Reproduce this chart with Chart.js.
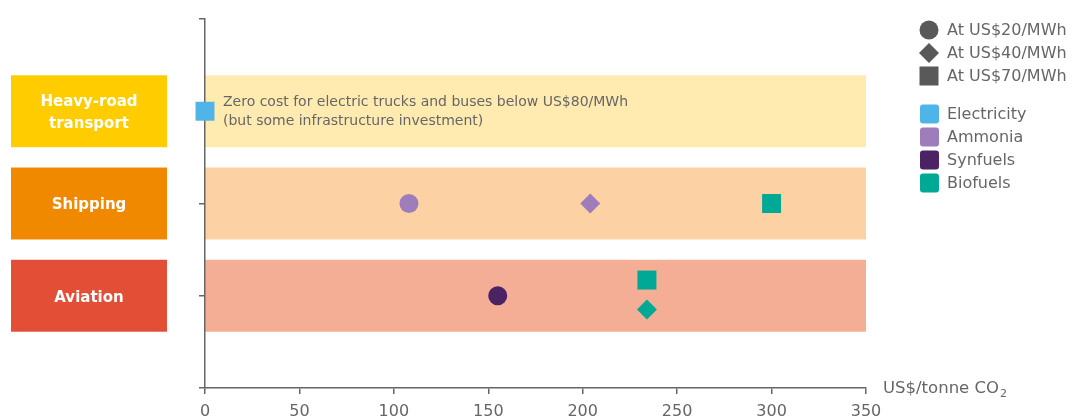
<!DOCTYPE html>
<html>
<head>
<meta charset="utf-8">
<script src="https://cdn.jsdelivr.net/npm/chart.js@4.4.1/dist/chart.umd.min.js"></script>
<style>
  html, body { margin: 0; padding: 0; background: #fff; }
  #wrap { width: 1074px; height: 418px; position: relative; }
</style>
</head>
<body>
<div id="wrap"><canvas id="chart"></canvas></div>
<script>
// sectors, top to bottom
const sectors = ['Heavy-road transport', 'Shipping', 'Aviation'];
const sectorLines = [['Heavy-road', 'transport'], ['Shipping'], ['Aviation']];
const sectorColors = ['#FFCC00', '#F08800', '#E34F36'];
const bandColors = ['#FFEBB0', '#FCD1A4', '#F4AE96'];

const xTicks = [0, 50, 100, 150, 200, 250, 300, 350];

const priceLabels = ['At US$20/MWh', 'At US$40/MWh', 'At US$70/MWh'];
const priceShapes = ['circle', 'rectRot', 'rect'];

const fuels = ['Electricity', 'Ammonia', 'Synfuels', 'Biofuels'];
const fuelColors = ['#4FB4E7', '#9E7DBA', '#4B2263', '#00A996'];

// abatement cost (US$/tonne CO2), sector row (1 = top), electricity price tier
const electricityCost = [0];
const electricityRow = [1];
const electricityTier = [2];

const ammoniaCost = [108, 204];
const ammoniaRow = [2, 2];
const ammoniaTier = [0, 1];

const synfuelsCost = [155];
const synfuelsRow = [3];
const synfuelsTier = [0];

const biofuelsCost = [300, 234, 234];
const biofuelsRow = [2, 2.83, 3.15];
const biofuelsTier = [2, 2, 1];

const noteLines = ['Zero cost for electric trucks and buses below US$80/MWh', '(but some infrastructure investment)'];

const FONT = "'DejaVu Sans', sans-serif";
const GREY = '#666666';
const radiusFor = { circle: 9.5, rectRot: 10, rect: 13.4 };

function makeSet(label, color, cost, row, tier) {
    const styles = tier.map(t => priceShapes[t]);
    return {
        label: label,
        data: cost.map((c, i) => ({ x: c, y: row[i] })),
        pointStyle: styles,
        pointRadius: styles.map(s => radiusFor[s]),
        pointHoverRadius: styles.map(s => radiusFor[s]),
        backgroundColor: color,
        borderColor: color,
        borderWidth: 0,
        clip: false
    };
}

const bandsPlugin = {
    id: 'bands',
    beforeDraw(chart) {
        const { ctx, scales: { x, y } } = chart;
        ctx.save();
        sectors.forEach((s, i) => {
            const top = y.getPixelForValue(i + 1 - 0.39);
            const bot = y.getPixelForValue(i + 1 + 0.39);
            ctx.fillStyle = bandColors[i];
            ctx.fillRect(x.getPixelForValue(0), top, x.getPixelForValue(350) - x.getPixelForValue(0), bot - top);
            // sector label box
            ctx.fillStyle = sectorColors[i];
            ctx.fillRect(11, top, 156, bot - top);
            ctx.fillStyle = '#ffffff';
            ctx.font = "bold 15px " + FONT;
            ctx.textAlign = 'center';
            ctx.textBaseline = 'middle';
            const lines = sectorLines[i];
            const mid = (top + bot) / 2 + 2;
            lines.forEach((ln, k) => {
                ctx.fillText(ln, 89, mid + (k - (lines.length - 1) / 2) * 22);
            });
        });
        // note in heavy-road band
        ctx.fillStyle = GREY;
        ctx.font = "14px " + FONT;
        ctx.textAlign = 'left';
        const ny = y.getPixelForValue(1);
        ctx.fillText(noteLines[0], 223, ny - 9);
        ctx.fillText(noteLines[1], 223, ny + 10);
        ctx.restore();
    },
    afterDraw(chart) {
        const { ctx, scales: { x } } = chart;
        ctx.save();
        // axis title
        ctx.fillStyle = GREY;
        ctx.font = "16.5px " + FONT;
        ctx.textAlign = 'left';
        ctx.textBaseline = 'middle';
        const ty = x.top + 1;
        const t = 'US$/tonne CO';
        ctx.fillText(t, 883, ty);
        const w = ctx.measureText(t).width;
        ctx.font = "11px " + FONT;
        ctx.fillText('2', 883 + w + 1, ty + 5);

        // legend: price tiers
        ctx.font = "16px " + FONT;
        const tierY = [30, 53, 76];
        priceLabels.forEach((lab, i) => {
            ctx.fillStyle = '#595959';
            ctx.beginPath();
            const s = priceShapes[i];
            if (s === 'circle') ctx.arc(929, tierY[i], 9.5, 0, Math.PI * 2);
            else if (s === 'rectRot') {
                ctx.moveTo(929 - 10, tierY[i]); ctx.lineTo(929, tierY[i] - 10);
                ctx.lineTo(929 + 10, tierY[i]); ctx.lineTo(929, tierY[i] + 10);
                ctx.closePath();
            } else ctx.rect(929 - 9.5, tierY[i] - 9.5, 19, 19);
            ctx.fill();
            ctx.fillStyle = GREY;
            ctx.fillText(lab, 947, tierY[i] + 1);
        });
        // legend: fuels
        const fuelY = [114, 137, 160, 183];
        fuels.forEach((f, i) => {
            ctx.fillStyle = fuelColors[i];
            ctx.beginPath();
            ctx.roundRect(920, fuelY[i] - 9.5, 19, 19, 3);
            ctx.fill();
            ctx.fillStyle = GREY;
            ctx.fillText(f, 947, fuelY[i] + 1);
        });
        ctx.restore();
    }
};

const data = {
    datasets: [
        makeSet('Electricity', fuelColors[0], electricityCost, electricityRow, electricityTier),
        makeSet('Ammonia', fuelColors[1], ammoniaCost, ammoniaRow, ammoniaTier),
        makeSet('Synfuels', fuelColors[2], synfuelsCost, synfuelsRow, synfuelsTier),
        makeSet('Biofuels', fuelColors[3], biofuelsCost, biofuelsRow, biofuelsTier)
    ]
};

const config = {
    type: 'scatter',
    data: data,
    options: {
        responsive: false,
        animation: false,
        layout: { padding: { left: 199, right: 208, top: 19, bottom: -12 } },
        scales: {
            x: {
                type: 'linear',
                min: 0,
                max: 350,
                afterBuildTicks: axis => { axis.ticks = xTicks.map(v => ({ value: v })); },
                ticks: { color: GREY, font: { family: FONT, size: 16, lineHeight: 1 }, padding: 10 },
                grid: { drawOnChartArea: false, drawTicks: true, tickLength: 6, color: GREY, lineWidth: 1.5 },
                border: { display: true, color: GREY, width: 1.5 }
            },
            y: {
                type: 'linear',
                reverse: true,
                min: 0,
                max: 4,
                ticks: { display: false, stepSize: 1 },
                grid: { drawOnChartArea: false, drawTicks: true, tickLength: 6, color: GREY, lineWidth: 1.5 },
                border: { display: true, color: GREY, width: 1.5 }
            }
        },
        plugins: {
            legend: { display: false },
            tooltip: { enabled: false }
        }
    },
    plugins: [bandsPlugin]
};

const canvas = document.getElementById('chart');
canvas.width = 1074;
canvas.height = 418;
const chart = new Chart(canvas.getContext('2d'), config);
</script>
</body>
</html>
